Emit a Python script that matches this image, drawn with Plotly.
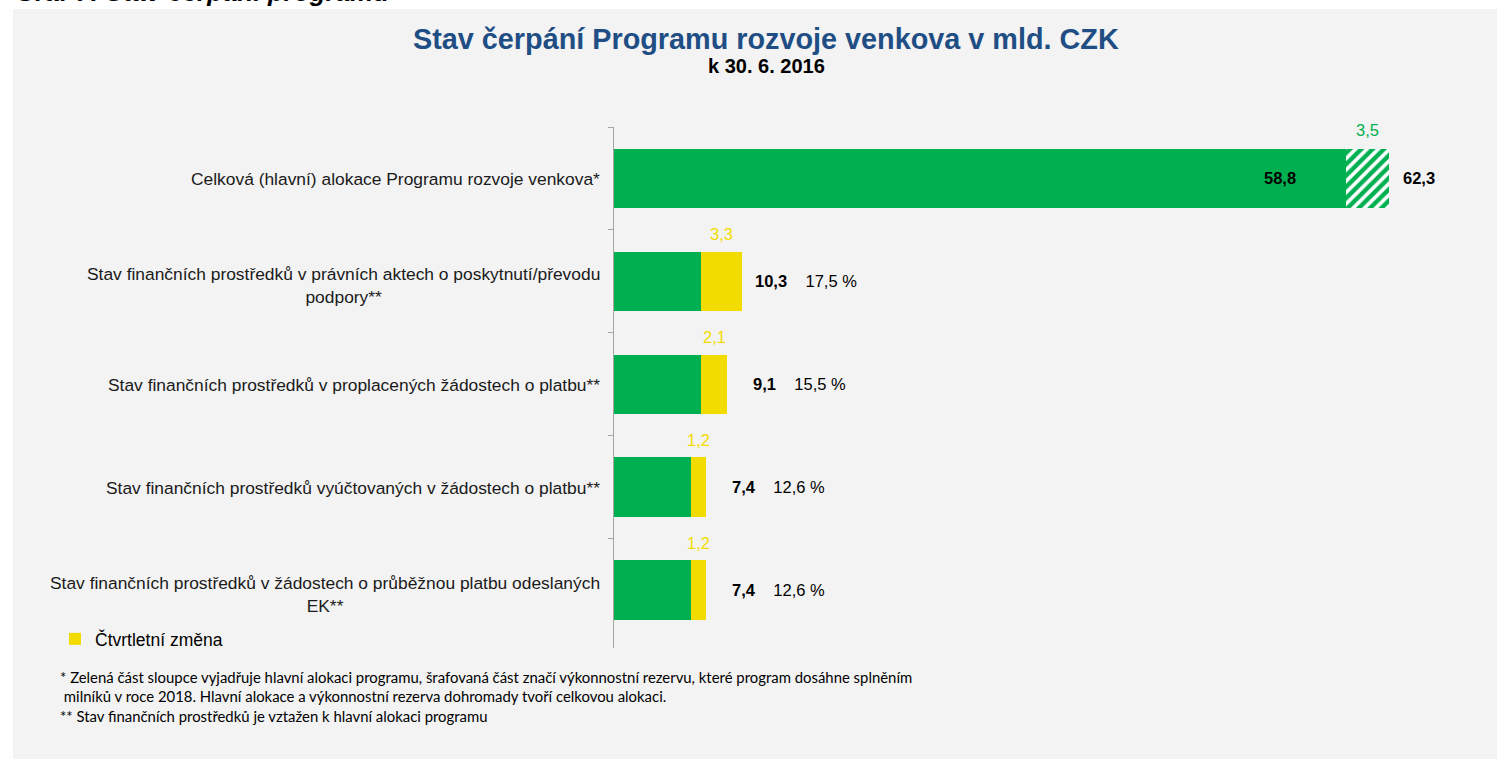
import plotly.graph_objects as go

# ---------------- data ----------------
categories = [
    "Celková (hlavní) alokace Programu rozvoje venkova*",
    "Stav finančních prostředků v právních aktech o poskytnutí/převodu<br>podpory**",
    "Stav finančních prostředků v proplacených žádostech o platbu**",
    "Stav finančních prostředků vyúčtovaných v žádostech o platbu**",
    "Stav finančních prostředků v žádostech o průběžnou platbu odeslaných<br>EK**",
]
base_values = [58.8, 7.0, 7.0, 6.2, 6.2]           # green part
quarter_change = [None, 3.3, 2.1, 1.2, 1.2]         # yellow part (Čtvrtletní změna)
reserve_values = [3.5, None, None, None, None]      # hatched part (výkonnostní rezerva)
totals = [62.3, 10.3, 9.1, 7.4, 7.4]
share_labels = ["", "17,5 %", "15,5 %", "12,6 %", "12,6 %"]

title_text = "Stav čerpání Programu rozvoje venkova v mld. CZK"
subtitle_text = "k 30. 6. 2016"
legend_name = "Čtvrtletní změna"
footnotes = [
    "* Zelená část sloupce vyjadřuje hlavní alokaci programu, šrafovaná část značí výkonnostní rezervu, které program dosáhne splněním",
    " milníků v roce 2018. Hlavní alokace a výkonnostní rezerva dohromady tvoří celkovou alokaci.",
    "** Stav finančních prostředků je vztažen k hlavní alokaci programu",
]
clipped_heading = "Graf 7: Stav čerpání programu"

# ---------------- style ----------------
GREEN = "#00b050"
YELLOW = "#f2dc00"
BG = "#f3f3f3"
FONT = "Liberation Sans, Arial, sans-serif"
W, H = 1497, 759
L, R, T, B = 614, 1485, 127, 648   # plot area in pixels


def px_x(p):
    return (p - L) / (R - L)


def px_y(p):
    return (B - p) / (B - T)


def fmt(v):
    return f"{v:.1f}".replace(".", ",")


fig = go.Figure()
fig.add_trace(go.Bar(
    y=categories, x=base_values, orientation="h",
    marker=dict(color=GREEN, line=dict(width=0)),
    showlegend=False, hoverinfo="skip",
))
fig.add_trace(go.Bar(
    y=categories, x=quarter_change, orientation="h", name=legend_name,
    marker=dict(color=YELLOW, line=dict(width=0)),
    showlegend=True, hoverinfo="skip",
))
fig.add_trace(go.Bar(
    y=categories, x=reserve_values, orientation="h",
    marker=dict(color="white", line=dict(width=0),
                pattern=dict(shape="/", fgcolor=GREEN, bgcolor="white",
                             size=8, solidity=0.55, fgopacity=1)),
    showlegend=False, hoverinfo="skip",
))

annotations = []

# category labels (centered multi-line, right edge next to axis)
for c in categories:
    annotations.append(dict(
        x=0, xref="paper", y=c, yref="y", xanchor="right", yanchor="middle",
        xshift=-12, yshift=(-4 if "<br>" in c else -1), text=c,
        showarrow=False, align="center",
        font=dict(family=FONT, size=17.4, color="#1a1a1a"),
    ))

# label inside main allocation bar
annotations.append(dict(
    x=base_values[0], y=categories[0], xref="x", yref="y", xanchor="right",
    xshift=-48, text=f"<b>{fmt(base_values[0])}</b>", showarrow=False,
    font=dict(family=FONT, size=16.5, color="black"),
))

# labels above the yellow / hatched segments
for i, c in enumerate(categories):
    if quarter_change[i] is not None:
        annotations.append(dict(
            x=base_values[i] + quarter_change[i] / 2, y=c, xref="x", yref="y",
            yshift=47, text=fmt(quarter_change[i]), showarrow=False,
            font=dict(family=FONT, size=16.5, color=YELLOW),
        ))
    if reserve_values[i] is not None:
        annotations.append(dict(
            x=base_values[i] + reserve_values[i] / 2, y=c, xref="x", yref="y",
            yshift=48, text=fmt(reserve_values[i]), showarrow=False,
            font=dict(family=FONT, size=16.5, color=GREEN),
        ))

# totals and shares to the right of each bar
label_gaps = [12, 11, 24, 24, 24]
for i, c in enumerate(categories):
    txt = f"<b>{fmt(totals[i])}</b>"
    if share_labels[i]:
        txt += "\u00a0\u00a0\u00a0\u00a0" + share_labels[i]
    annotations.append(dict(
        x=totals[i], y=c, xref="x", yref="y", xanchor="left",
        xshift=label_gaps[i], text=txt, showarrow=False,
        font=dict(family=FONT, size=16.5, color="black"),
    ))

# titles
annotations.append(dict(
    x=px_x(766), y=px_y(39), xref="paper", yref="paper", xanchor="center",
    yanchor="middle", text=f"<b>{title_text}</b>", showarrow=False,
    font=dict(family=FONT, size=28.8, color="#1f4e85"),
))
annotations.append(dict(
    x=px_x(766), y=px_y(66), xref="paper", yref="paper", xanchor="center",
    yanchor="middle", text=f"<b>{subtitle_text}</b>", showarrow=False,
    font=dict(family=FONT, size=20, color="black"),
))

# footnotes
for txt, py in zip(footnotes, [677, 696, 716]):
    annotations.append(dict(
        x=px_x(58), y=px_y(py), xref="paper", yref="paper", xanchor="left",
        yanchor="middle", text=txt, showarrow=False, align="left",
        font=dict(family="Lato, Liberation Sans, sans-serif", size=14.9, color="black"),
    ))

# heading cut off at the top edge of the picture (as in the reference)
annotations.append(dict(
    x=px_x(13), y=px_y(9), xref="paper", yref="paper", xanchor="left",
    yanchor="bottom", text=f"<b><i>{clipped_heading}</i></b>", showarrow=False,
    font=dict(family=FONT, size=26, color="black"),
))

fig.update_layout(
    width=W, height=H,
    margin=dict(l=L, r=W - R, t=T, b=H - B, pad=0),
    barmode="stack", bargap=0.423,
    paper_bgcolor="white", plot_bgcolor="rgba(0,0,0,0)",
    font=dict(family=FONT, size=16, color="black"),
    xaxis=dict(range=[0, 70], visible=False, fixedrange=True),
    yaxis=dict(
        autorange="reversed", showticklabels=False, ticks="outside",
        tickson="boundaries", ticklen=5, tickcolor="#a6a6a6",
        showline=True, linecolor="#a6a6a6", linewidth=1,
        showgrid=False, zeroline=False, fixedrange=True,
    ),
    legend=dict(
        x=px_x(55), y=px_y(621), xanchor="left", yanchor="top",
        bgcolor="rgba(0,0,0,0)", font=dict(family=FONT, size=17.5, color="black"),
        itemwidth=30, tracegroupgap=0,
    ),
    shapes=[dict(
        type="rect", xref="paper", yref="paper", layer="below",
        x0=px_x(13), x1=px_x(W + 5), y0=px_y(H + 5), y1=px_y(9),
        fillcolor=BG, line=dict(width=0),
    )],
    annotations=annotations,
)

fig.write_html("out.html", config={"displayModeBar": False},
               post_script="document.body.style.margin='0';")
